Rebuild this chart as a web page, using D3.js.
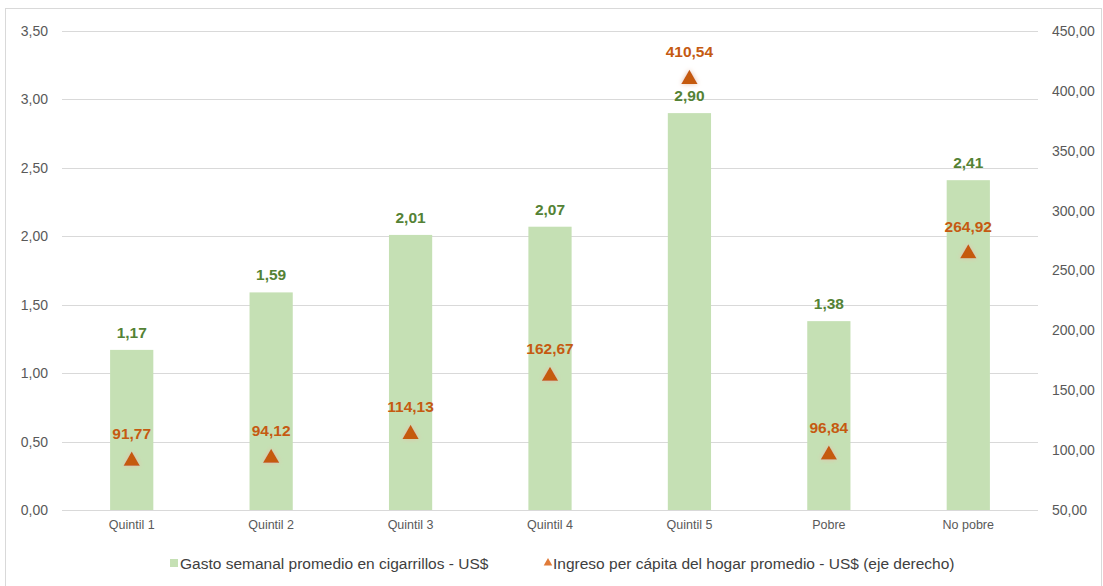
<!DOCTYPE html>
<html><head><meta charset="utf-8">
<script src="https://cdn.jsdelivr.net/npm/d3@7"></script>
<style>body{margin:0;background:#fff;font-family:Arial,"Liberation Sans",sans-serif;}</style>
</head><body><svg id="c" width="1103" height="586"></svg>
<script>
const categories = ["Quintil 1","Quintil 2","Quintil 3","Quintil 4","Quintil 5","Pobre","No pobre"];
const gasto = [1.17,1.59,2.01,2.07,2.90,1.38,2.41];
const ingreso = [91.77,94.12,114.13,162.67,410.54,96.84,264.92];
const leftTicks = [0,0.5,1,1.5,2,2.5,3,3.5];
const rightTicks = [50,100,150,200,250,300,350,400,450];
const seriesNames = ["Gasto semanal promedio en cigarrillos - US$","Ingreso per cápita del hogar promedio - US$ (eje derecho)"];

const svg = d3.select("#c");
const fmt = v => d3.format(".2f")(v).replace(".", ",");
const L = 62, R = 1038, T = 31, B = 510;
svg.append("rect").attr("x",5.5).attr("y",8.5).attr("width",1096).attr("height",600).attr("fill","none").attr("stroke","#d9d9d9");

const x = d3.scaleBand().domain(categories).range([L,R]).paddingInner(0.69).paddingOuter(0.345);
const y = d3.scaleLinear().domain([0,3.5]).range([B,T]);
const y2 = d3.scaleLinear().domain([50,450]).range([B,T]);

const defs = svg.append("defs");
const f = defs.append("filter").attr("id","glow").attr("x","-80%").attr("y","-80%").attr("width","260%").attr("height","260%");
f.append("feGaussianBlur").attr("in","SourceAlpha").attr("stdDeviation",2.6).attr("result","b");
f.append("feFlood").attr("flood-color","#e6bfa6").attr("result","c");
f.append("feComposite").attr("in","c").attr("in2","b").attr("operator","in").attr("result","s");
const m = f.append("feMerge"); m.append("feMergeNode").attr("in","s"); m.append("feMergeNode").attr("in","SourceGraphic");

// gridlines
svg.append("g").selectAll("line").data(leftTicks).join("line")
  .attr("x1",L).attr("x2",R).attr("y1",d=>Math.round(y(d))+0.5).attr("y2",d=>Math.round(y(d))+0.5)
  .attr("stroke","#d9d9d9").attr("stroke-width",1);

const ff = "Arial,'Liberation Sans',sans-serif";
// axes
const ax = svg.append("g").attr("transform",`translate(${L},0)`)
  .call(d3.axisLeft(y).tickValues(leftTicks).tickFormat(fmt).tickSize(0).tickPadding(14));
ax.select(".domain").remove();
ax.selectAll("text").attr("fill","#595959").style("font-size","14px").style("font-family",ff);
const ax2 = svg.append("g").attr("transform",`translate(${R},0)`)
  .call(d3.axisRight(y2).tickValues(rightTicks).tickFormat(fmt).tickSize(0).tickPadding(14));
ax2.select(".domain").remove();
ax2.selectAll("text").attr("fill","#595959").style("font-size","14px").style("font-family",ff);

// bars
svg.append("g").selectAll("rect").data(gasto).join("rect")
  .attr("x",(d,i)=>x(categories[i])).attr("width",x.bandwidth())
  .attr("y",d=>y(d)).attr("height",d=>B-y(d)).attr("fill","#c5e0b4");

// baseline
svg.append("line").attr("x1",L).attr("x2",R).attr("y1",B+0.5).attr("y2",B+0.5).attr("stroke","#d9d9d9");

const xa = svg.append("g").attr("transform",`translate(0,${B})`)
  .call(d3.axisBottom(x).tickSize(0).tickPadding(10));
xa.select(".domain").remove();
xa.selectAll("text").attr("fill","#595959").style("font-size","12.5px").style("font-family",ff);

// bar labels
svg.append("g").selectAll("text").data(gasto).join("text")
  .attr("x",(d,i)=>x(categories[i])+x.bandwidth()/2).attr("y",d=>y(d)-12)
  .attr("text-anchor","middle").attr("fill","#548235").style("font-weight","bold").style("font-size","15.5px").style("font-family",ff)
  .text(d=>fmt(d));

// triangles
const tri = d3.symbol().type(d3.symbolTriangle).size(115);
svg.append("g").selectAll("path").data(ingreso).join("path")
  .attr("d",tri).attr("transform",(d,i)=>`translate(${x(categories[i])+x.bandwidth()/2},${y2(d)+1})`)
  .attr("fill","#c55a11").attr("filter","url(#glow)");
svg.append("g").selectAll("text").data(ingreso).join("text")
  .attr("x",(d,i)=>x(categories[i])+x.bandwidth()/2).attr("y",d=>y2(d)-21)
  .attr("text-anchor","middle").attr("fill","#c55a11").style("font-weight","bold").style("font-size","15.5px").style("font-family",ff)
  .text(d=>fmt(d));

// legend
const lg = svg.append("g");
lg.append("rect").attr("x",170).attr("y",559).attr("width",8).attr("height",8).attr("fill","#c5e0b4");
lg.append("text").attr("x",180).attr("y",569).attr("fill","#404040").style("font-size","15.5px").style("font-family",ff).text(seriesNames[0]);
lg.append("path").attr("d",d3.symbol().type(d3.symbolTriangle).size(32)).attr("transform","translate(548,563)").attr("fill","#e07b39");
lg.append("text").attr("x",553).attr("y",569).attr("fill","#404040").style("font-size","15.5px").style("font-family",ff).text(seriesNames[1]);
</script></body></html>
